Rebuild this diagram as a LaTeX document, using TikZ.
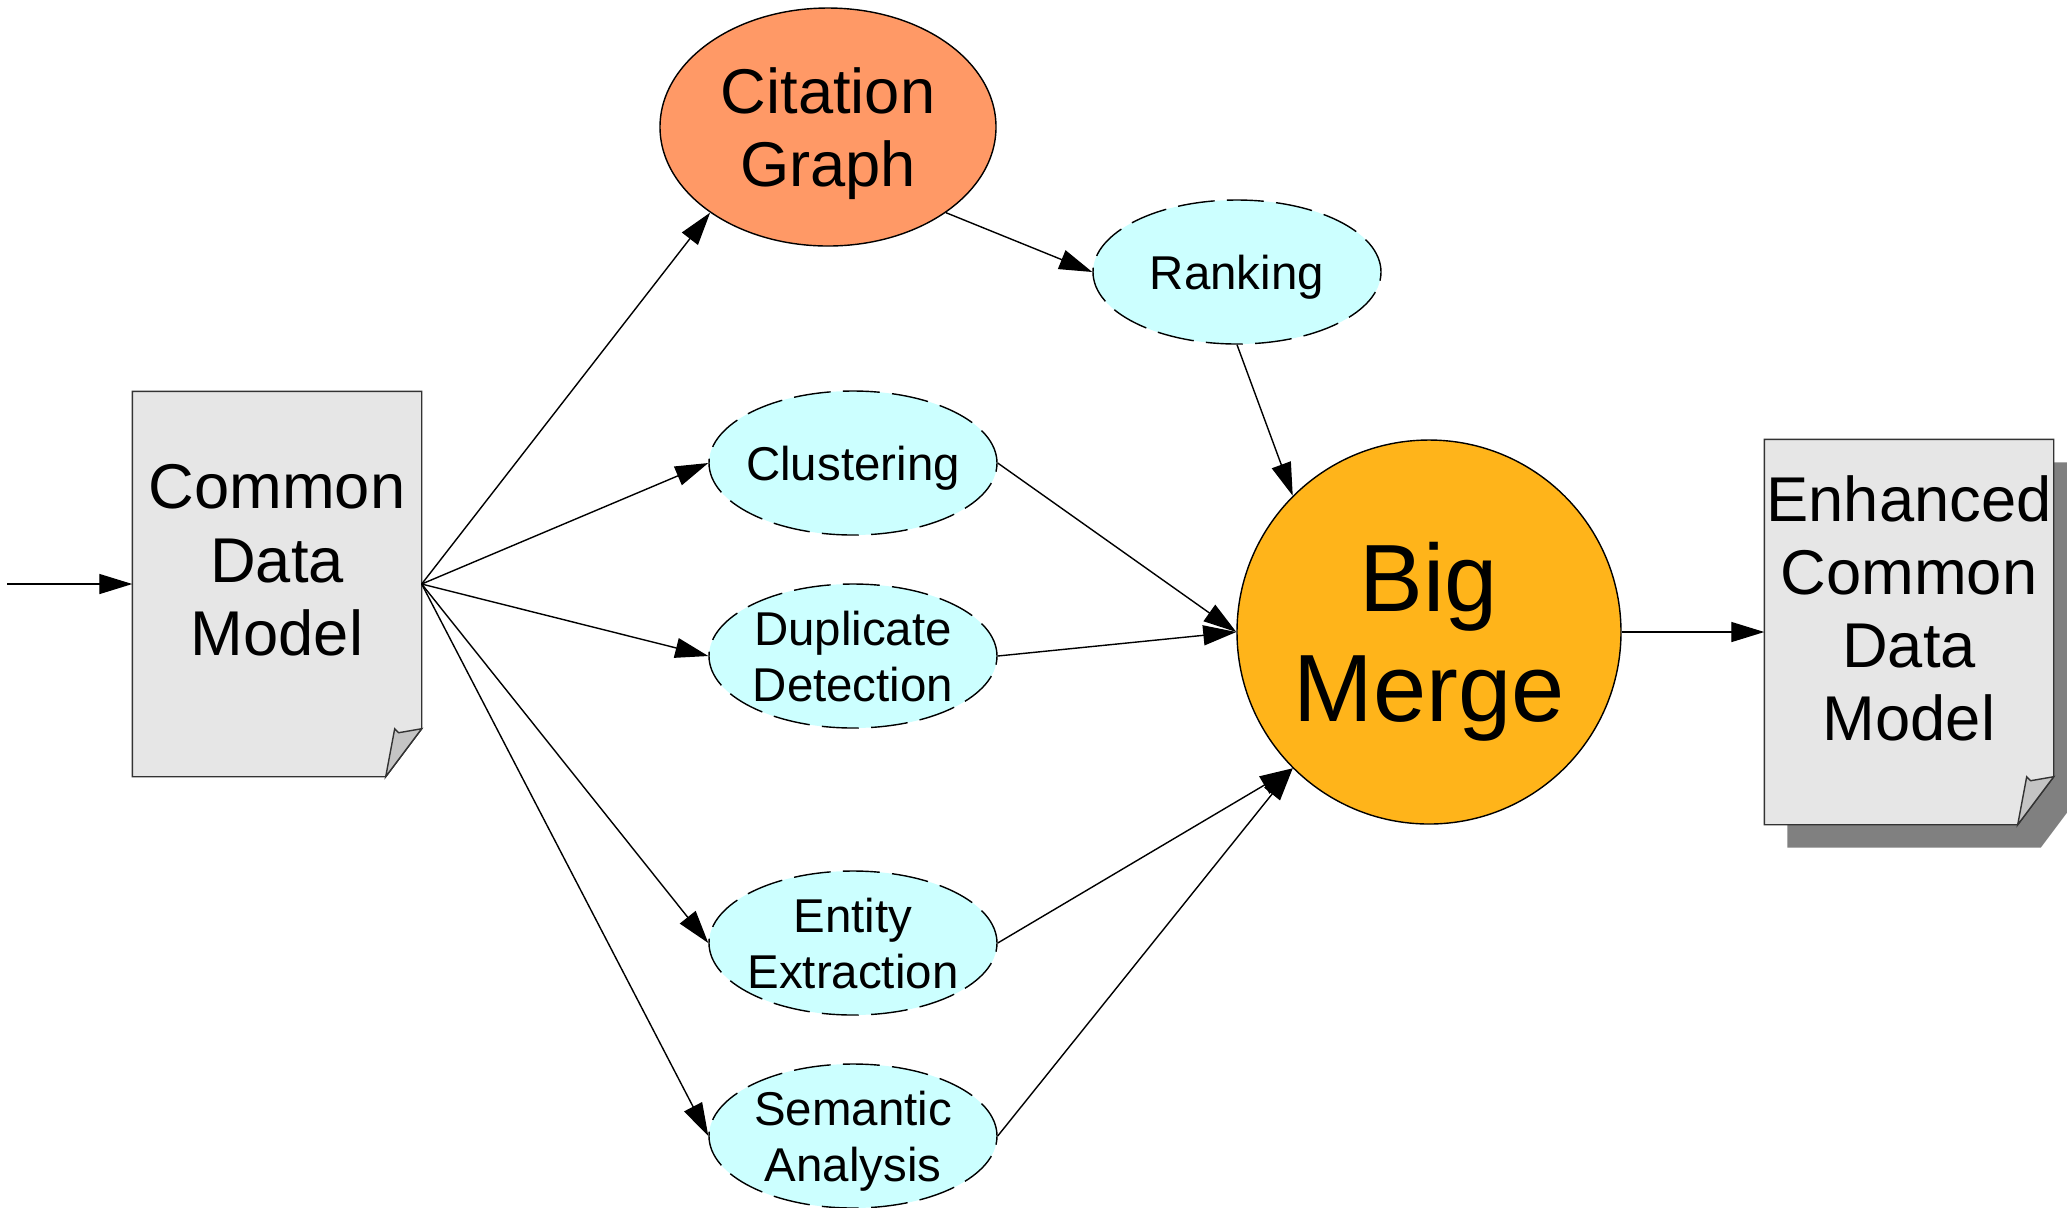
\documentclass[tikz,border=0pt]{standalone}
\usepackage{fontspec}
\setmainfont{Liberation Sans}
\usetikzlibrary{shapes.geometric,arrows.meta,backgrounds}
\definecolor{pagegrey}{HTML}{E6E6E6}
\definecolor{flapgrey}{HTML}{C4C4C4}
\definecolor{shadegrey}{HTML}{808080}
\definecolor{citesalmon}{HTML}{FF9966}
\definecolor{mergeorange}{HTML}{FFB41A}
\definecolor{taskcyan}{HTML}{CCFFFF}

\begin{document}
\begin{tikzpicture}[x=0.1mm, y=-0.1mm, line width=0.4pt]
  \useasboundingbox (0,0) rectangle (2067,1207);  % Rand wie im Original.
  \tikzstyle{doc}=[rectangle, minimum width=28.8mm, minimum height=38.4mm, inner sep=0pt, align=center, font=\fontsize{18}{20.8}\selectfont, text depth=13.7pt]
  \tikzstyle{sheet}=[draw=black!80, fill=pagegrey]
  \tikzstyle{flap}=[draw=black!80, fill=flapgrey]
  \tikzstyle{dropshade}=[fill=shadegrey]
  \tikzstyle{citation}=[ellipse, draw, fill=citesalmon, minimum width=33.6mm, minimum height=23.8mm, inner sep=0pt, align=center, font=\fontsize{18}{20.8}\selectfont, text depth=0pt]
  \tikzstyle{task}=[ellipse, draw, dash pattern=on 10.5pt off 3.5pt, fill=taskcyan, minimum width=28.8mm, minimum height=14.4mm, inner xsep=-0.6mm, inner ysep=0pt, align=center, font=\fontsize{13.5}{15.9}\selectfont, text depth=0pt]
  \tikzstyle{hub}=[circle, draw, fill=mergeorange, minimum size=38.4mm, inner sep=0pt, align=center, font=\fontsize{27.2}{31.3}\selectfont, text depth=0pt]
  \tikzstyle{flow}=[draw, -{Triangle[length=9.4pt, width=5.7pt]}]

  \node[doc]      (cdm)   at (277,  584)  {Common\\Data\\Model};
  \node[doc]      (ecdm)  at (1909, 632)  {Enhanced\\Common\\Data\\Model};
  \node[citation] (cit)   at (828,  127)  {Citation\\Graph};
  \node[task]     (rank)  at (1237, 272)  {Ranking};
  \node[task]     (clust) at (853,  463)  {Clustering};
  \node[task]     (dup)   at (853,  656)  {Duplicate\\Detection};
  \node[task]     (ent)   at (853,  943)  {Entity\\Extraction};
  \node[task]     (sem)   at (853,  1136) {Semantic\\Analysis};
  \node[hub]      (merge) at (1429, 632)  {Big\\Merge};
  \coordinate     (in)    at (7,    584);

  % Blaetter mit Eselsohr
  \begin{scope}[on background layer]
    \path[dropshade] ([shift={(23,23)}]ecdm.north west) -- ([shift={(23,23)}]ecdm.north east)
      -- ([shift={(23,-25)}]ecdm.south east) -- ([shift={(-13,23)}]ecdm.south east)
      -- ([shift={(23,23)}]ecdm.south west) -- cycle;
    \draw[sheet] (cdm.north west) -- (cdm.north east) -- ([shift={(0,-48)}]cdm.south east)
      -- ([shift={(-36,0)}]cdm.south east) -- (cdm.south west) -- cycle;
    \draw[sheet] (ecdm.north west) -- (ecdm.north east) -- ([shift={(0,-48)}]ecdm.south east)
      -- ([shift={(-36,0)}]ecdm.south east) -- (ecdm.south west) -- cycle;
    \draw[flap] ([shift={(-36,0)}]cdm.south east) -- ([shift={(-27,-48)}]cdm.south east)
      -- ([shift={(-23,-44)}]cdm.south east) -- ([shift={(0,-48)}]cdm.south east) -- cycle;
    \draw[flap] ([shift={(-36,0)}]ecdm.south east) -- ([shift={(-27,-48)}]ecdm.south east)
      -- ([shift={(-23,-44)}]ecdm.south east) -- ([shift={(0,-48)}]ecdm.south east) -- cycle;
  \end{scope}

  \path (in) edge[flow] (cdm.west);
  \path (cdm.east) edge[flow] (cit.216);
  \path (cdm.east) edge[flow] (clust.west);
  \path (cdm.east) edge[flow] (dup.west);
  \path (cdm.east) edge[flow] (ent.west);
  \path (cdm.east) edge[flow] (sem.west);
  \path (cit.324) edge[flow] (rank.west);
  \path (rank.south) edge[flow] (merge.135);
  \path (clust.east) edge[flow] (merge.west);
  \path (dup.east) edge[flow] (merge.west);
  \path (ent.east) edge[flow] (merge.225);
  \path (sem.east) edge[flow] (merge.225);
  \path (merge.east) edge[flow] (ecdm.west);
\end{tikzpicture}
\end{document}
